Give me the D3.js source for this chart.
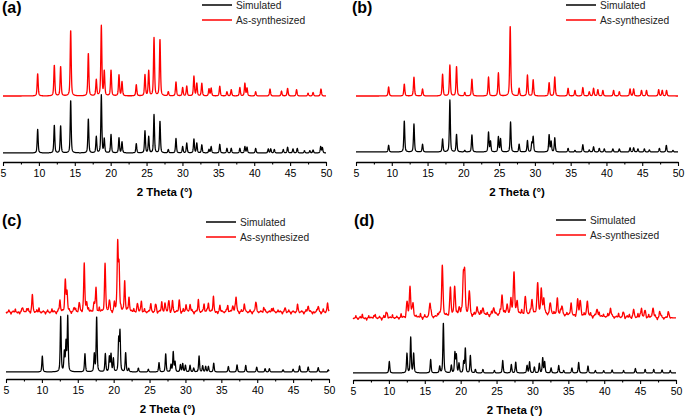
<!DOCTYPE html>
<html><head><meta charset="utf-8">
<script src="https://cdn.jsdelivr.net/npm/d3@7"></script>
<style>body{margin:0;background:#fff}svg{display:block}text{font-family:"Liberation Sans",Arial,sans-serif}</style>
</head><body><svg id="chart" width="685" height="417"></svg>
<script>
// ---------------- data ----------------
const panelLabels = ["(a)", "(b)", "(c)", "(d)"];
const seriesNames = ["Simulated", "As-synthesized"];
const xTicks = [5, 10, 15, 20, 25, 30, 35, 40, 45, 50];
const xTitle = "2 Theta (°)";

// peaks: [2theta, relative intensity (max = 100)]
const simA = [[9.83,41],[12.15,48],[13.03,47],[14.43,91],[16.89,59],[18.0,28],[18.7,100],[19.11,24],[20.05,32],[21.16,26],[21.58,19],[23.57,16],[24.78,38],[25.3,28],[26.04,66],[26.87,55],[28.03,6],[29.1,25],[30.03,11],[30.6,17],[31.6,24],[32.0,17],[32.7,14],[33.7,6],[34.0,11],[35.2,15],[36.2,8],[36.8,8],[38.0,8],[38.7,11],[39.0,10],[40.2,8],[41.96,7],[42.3,7],[42.8,6],[44.05,6],[44.65,10],[45.4,7],[46.0,8],[47.0,4],[47.75,4],[48.2,5],[49.26,11],[49.5,9]];
const expA = [[9.83,32],[12.15,44],[13.03,42],[14.43,94],[16.89,61],[18.0,23],[18.7,100],[19.11,35],[20.05,37],[21.16,30],[21.58,20],[23.57,16],[24.78,30],[25.3,36],[26.04,83],[26.87,81],[28.03,6],[29.1,20],[30.03,12],[30.6,14],[31.6,28],[32.0,18],[32.7,18],[33.7,10],[34.0,11],[35.2,14],[36.2,6],[36.8,9],[38.0,12],[38.7,18],[39.0,11],[40.2,6],[42.2,10],[43.8,7],[44.65,11],[45.9,9],[47.5,4],[48.2,5],[49.3,10]];

const simB = [[9.56,13],[11.75,60],[13.1,54],[14.3,15],[17.1,25],[18.12,100],[19.05,34],[20.2,3],[21.2,33],[23.52,38],[23.8,20],[24.9,29],[25.2,25],[26.6,58],[27.8,15],[28.96,22],[29.57,17],[29.76,29],[31.99,33],[32.27,20],[32.78,27],[34.64,7],[35.6,3],[36.7,14],[37.6,4],[38.2,10],[39.0,7],[39.7,6],[40.9,6],[41.8,6],[43.3,8],[43.8,8],[44.4,6],[45.3,6],[46.0,4],[47.4,7],[48.37,13],[49.3,3]];
const expB = [[9.56,13],[11.75,17],[13.1,27],[14.3,10],[17.1,31],[18.12,44],[19.05,42],[20.2,5],[21.2,24],[23.52,27],[24.9,33],[26.55,100],[27.8,11],[28.96,30],[29.76,23],[31.99,19],[32.78,27],[34.64,11],[35.6,8],[36.7,12],[37.6,6],[38.2,11],[38.8,9],[39.5,8],[41.0,8],[41.8,6],[43.3,10],[43.8,10],[44.9,8],[45.6,8],[47.3,9],[47.8,8],[48.4,8]];

const simC = [[10.06,29],[12.62,100],[13.13,35],[13.36,52],[13.6,100],[16.0,33],[17.3,32],[17.63,100],[18.84,33],[19.4,27],[19.63,32],[19.96,24],[20.7,58],[20.88,72],[21.67,35],[22.1,6],[23.44,7],[24.83,5],[26.32,17],[27.25,33],[27.99,13],[28.3,36],[28.55,18],[29.3,13],[29.62,15],[30.0,12],[30.64,12],[31.15,7],[31.9,29],[32.4,11],[32.82,10],[33.2,10],[33.94,16],[35.98,10],[37.19,13],[38.4,12],[39.93,9],[41.1,6],[41.7,6],[43.6,4],[45.0,5],[45.9,11],[47.1,9],[48.5,8],[49.9,4]];
const expC = [[7.32,6],[7.9,5],[8.67,25],[12.52,18],[13.27,45],[13.5,31],[14.5,6],[15.2,13],[15.9,71],[16.24,14],[17.26,13],[17.54,36],[18.8,72],[19.4,16],[20.1,12],[20.56,100],[20.75,67],[21.54,47],[22.14,22],[23.3,12],[23.86,16],[25.16,10],[25.9,10],[26.7,12],[27.15,13],[27.7,16],[28.2,14],[29.15,16],[30.08,11],[30.64,12],[31.8,14],[32.6,12],[33.2,13],[33.9,19],[34.8,7],[35.9,10],[36.6,10],[37.05,22],[38.2,12],[39.8,14],[40.9,7],[42.25,7],[43.9,6],[45.64,8],[47.1,10],[48.5,8],[49.8,12]];
// background noise of the measured pattern (c), signed deviations read every 0.3°
const noiseC = [-1,2,-2,1,3,-1,-2,2,0,-1,3,-2,1,-1,2,4,-1,1,-2,2,-1,3,1,-2,2,-1,1,4,-1,2,-2,1,3,-1,2,-2,1,-1,3,1,-1,2,-2,4,1,-1,2,0,3,-2,1,2,-1,3,1,-2,2,-1,1,3,-1,2,1,-2,3,-1,1,2,-1,4,-2,1,2,-1,1,3,-2,2,-1,1,2,-2,3,-1,1,-1,2,-2,1,3,-1,1,-2,2,-1,1,3,-1,-2,2,1,-1,2,-2,1,-1,3,1,-2,2,-1,1,-1,2,-2,1,3,-1,1,-2,2,-1,1,3,-2,-1,2,1,-2,1,-1,2,-2,1,-1,3,-1,1,-2,2,-1,1,-2,-1,2,1,-2,3,-1,1];

const simD = [[10.06,23],[12.52,39],[13.04,71],[13.45,39],[15.82,27],[17.08,13],[17.59,100],[18.7,15],[19.2,40],[19.4,35],[19.77,19],[20.42,22],[20.65,49],[21.35,35],[22.05,7],[23.1,7],[24.7,5],[25.86,25],[27.06,17],[27.67,22],[29.25,15],[29.6,22],[30.27,12],[30.96,19],[31.43,30],[31.7,22],[32.6,10],[33.66,15],[34.35,5],[35.5,10],[36.44,21],[37.74,14],[38.77,5],[39.93,5],[41.1,6],[42.7,5],[44.34,9],[45.7,7],[46.9,7],[48.06,6],[49.2,5]];
const expD = [[7.9,5],[9.74,10],[12.52,30],[12.94,63],[13.36,28],[15.73,28],[17.08,9],[17.45,100],[18.56,54],[19.17,63],[19.8,17],[20.37,72],[20.56,83],[21.2,48],[22.28,17],[23.1,17],[24.6,15],[25.76,38],[26.46,21],[27.0,25],[27.43,85],[27.85,22],[29.0,35],[29.94,30],[30.73,63],[31.24,45],[31.57,32],[32.5,22],[33.47,34],[34.1,17],[35.38,19],[36.3,30],[36.68,27],[37.65,30],[39.0,17],[40.86,19],[42.7,9],[44.1,15],[45.2,19],[45.7,14],[46.8,21],[47.8,9],[48.98,9]];
// broad amorphous hump of (d): [center, height, fwhm]
const humpD = [[29, 8, 18]];
const noiseD = [-1,3,-2,2,5,-1,-3,3,1,-2,4,-1,2,-3,3,5,-2,1,4,-1,2,-2,5,1,-3,3,-1,4,-2,2,1,5,-3,3,-1,2,4,-2,1,3,-3,5,-1,2,-2,4,1,-3,3,-1,5,2,-2,1,4,-3,3,-1,2,5,-2,1,3,-3,4,-1,2,-2,5,1,3,-3,-1,4,2,-2,3,1,5,-3,2,-1,4,-2,1,3,-1,5,-3,2,-2,4,1,3,-1,-3,5,2,-2,3,1,4,-1,-3,2,5,-2,3,1,-1,4,-3,2,-2,5,1,3,-1,4,-3,2,-2,1,5,-1,3,-3,2,4,-2,1,-1,5,3,-3,2,-2,4,1,-1,3,-3,5,2,-2,1,4,-1];

// ---------------- layout ----------------
const panels = [
  {label:0, sim:simA, exp:expA, x0:3,   x1:326, axisY:162, bBase:153, bTop:95,  rBase:96,  rTop:26,  lx:202, ly:5,   lab:[2,13], w:0.17},
  {label:1, sim:simB, exp:expB, x0:356, x1:678, axisY:162, bBase:152, bTop:100, rBase:96,  rTop:26,  lx:566, ly:5,   lab:[352,13], w:0.17},
  {label:2, sim:simC, exp:expC, noise:noiseC, x0:6, x1:329, axisY:379, bBase:372, bTop:317, rBase:312, rTop:245, lx:206, ly:222, lab:[2,226], w:0.18},
  {label:3, sim:simD, exp:expD, noise:noiseD, hump:humpD, x0:353, x1:676, axisY:380, bBase:373, bTop:323, rBase:318, rTop:269, lx:556, ly:220, lab:[354,226], w:0.22}
];

const grid = d3.range(5, 50.0001, 0.02);
function pv(x, c, h, w) {
  const t = (x - c) / w;
  return h * (0.5 / (1 + 4 * t * t) + 0.5 * Math.exp(-2.7726 * t * t));
}
function profile(peaks, w, noise, hump) {
  return grid.map(x => {
    let v = 0;
    for (const p of peaks) { if (Math.abs(x - p[0]) < 6) v += pv(x, p[0], p[1], w); }
    if (noise) {
      const i = Math.round((x - 5.1) / 0.3);
      for (let k = Math.max(0, i - 2); k <= Math.min(noise.length - 1, i + 2); k++) {
        const t = (x - (5.1 + k * 0.3)) / 0.11;
        v += 1.5 * noise[k] * Math.exp(-2.7726 * t * t);
      }
    }
    if (hump) for (const b of hump) v += b[1] * Math.exp(-2.7726 * ((x - b[0]) / b[2]) ** 2);
    return [x, v];
  });
}

const svg = d3.select("#chart");
panels.forEach(P => {
  const g = svg.append("g");
  const x = d3.scaleLinear().domain([5, 50]).range([P.x0, P.x1]);
  const yB = d3.scaleLinear().domain([0, 100]).range([P.bBase, P.bTop]);
  const yR = d3.scaleLinear().domain([0, 100]).range([P.rBase, P.rTop]);

  const sim = profile(P.sim, 0.16);
  const exp = profile(P.exp, P.w, P.noise, P.hump);

  g.append("path").datum(exp).attr("fill", "none").attr("stroke", "#ff0000").attr("stroke-width", 1.3)
    .attr("stroke-linejoin", "round")
    .attr("d", d3.line().x(d => x(d[0])).y(d => yR(d[1])));
  g.append("path").datum(sim).attr("fill", "none").attr("stroke", "#000").attr("stroke-width", 1.25)
    .attr("stroke-linejoin", "round")
    .attr("d", d3.line().x(d => x(d[0])).y(d => yB(d[1])));

  // axis
  const ax = g.append("g").attr("transform", `translate(0,${P.axisY})`);
  ax.call(d3.axisBottom(x).tickValues(xTicks).tickFormat(d3.format("d")).tickSize(4).tickSizeOuter(0));
  ax.append("g").call(d3.axisBottom(x).tickValues(d3.range(7.5, 50, 5)).tickFormat("").tickSize(2.5).tickSizeOuter(0))
    .select(".domain").remove();
  ax.selectAll(".domain").attr("stroke", "#000").attr("stroke-width", 1.4);
  ax.selectAll(".tick line").attr("stroke", "#000").attr("stroke-width", 1.1);
  ax.selectAll(".tick text").attr("font-size", 10.5).attr("fill", "#000").attr("dy", "0.75em").attr("y", 7)
    .attr("font-family", "Liberation Sans, Arial, sans-serif");

  g.append("text").attr("x", (P.x0 + P.x1) / 2).attr("y", P.axisY + 34).attr("text-anchor", "middle")
    .attr("font-size", 11.5).attr("font-weight", "bold").text(xTitle);

  g.append("text").attr("x", P.lab[0]).attr("y", P.lab[1]).attr("font-size", 16).attr("font-weight", "bold")
    .text(panelLabels[P.label]);

  // legend
  const cols = ["#000", "#ff0000"];
  seriesNames.forEach((n, i) => {
    const yy = P.ly + i * 15;
    g.append("line").attr("x1", P.lx).attr("x2", P.lx + 30).attr("y1", yy).attr("y2", yy)
      .attr("stroke", cols[i]).attr("stroke-width", 1.5);
    g.append("text").attr("x", P.lx + 34).attr("y", yy + 3.6).attr("font-size", 10.2).attr("fill", "#222").text(n);
  });
});
</script></body></html>
